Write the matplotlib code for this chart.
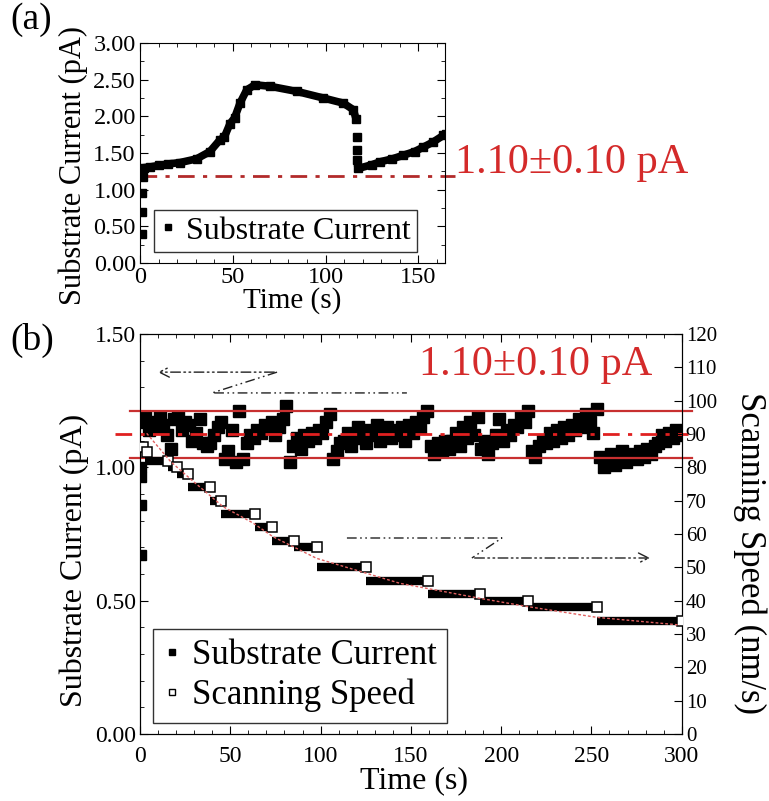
import numpy as np
import matplotlib
matplotlib.use('Agg')
import matplotlib.pyplot as plt
from matplotlib.ticker import MultipleLocator, FormatStrFormatter
from matplotlib.lines import Line2D

plt.rcParams['font.family'] = ['Liberation Serif', 'DejaVu Serif']

# ---------------- panel (a): substrate current vs time ----------------
a_rise_t = [0.9, 0.9, 1.3, 1.6]
a_rise_i = [0.40, 0.69, 0.95, 1.17]
a_time_1 = [2, 5.4, 10, 15, 21.6, 30.5, 37.7, 43.1, 45.5, 48.5, 51, 53.9, 57.5,
            62, 70, 84.5, 98.8, 109.6, 115, 116.4]
a_curr_1 = [1.30, 1.31, 1.33, 1.35, 1.37, 1.42, 1.52, 1.68, 1.72, 1.90, 1.98,
            2.18, 2.36, 2.43, 2.41, 2.34, 2.25, 2.18, 2.09, 1.97]
a_drop_t = [117, 117, 117]
a_drop_i = [1.72, 1.54, 1.40]
a_time_2 = [117.7, 125, 129.4, 136, 142, 148, 152.7, 158, 163.5, 165]
a_curr_2 = [1.29, 1.34, 1.38, 1.42, 1.47, 1.52, 1.58, 1.65, 1.74, 1.76]
a_ref_level = 1.186

# ---------------- panel (b): current under speed control ----------------
b_start_t = [0.8, 0.8, 0.8, 0.8]
b_start_i = [0.67, 0.86, 0.965, 1.0]
b_step = 2.0          # sampling interval of the current trace (s)
b_curr = [1.17, 1.19, 1.14,
          1.17, 1.15, 1.19, 1.16,
          1.12, 1.07, 1.18,
          1.19, 1.14, 1.17,
          1.16, 1.10, 1.13,
          1.18, 1.09, 1.08,
          1.09, 1.12, 1.15,
          1.17, 1.03,
          1.06, 1.14, 1.02,
          1.21, 1.03,
          1.09, 1.12, 1.11, 1.14, 1.13, 1.16, 1.15,
          1.17, 1.12, 1.15, 1.18,
          1.23, 1.02,
          1.08, 1.11, 1.07, 1.12, 1.10, 1.13, 1.11, 1.14, 1.13, 1.17, 1.20,
          1.03, 1.06, 1.09,
          1.10, 1.13, 1.08, 1.12, 1.15, 1.11, 1.09, 1.14, 1.12, 1.16, 1.10,
          1.13, 1.15, 1.11, 1.14,
          1.12, 1.15, 1.10, 1.16, 1.13, 1.17, 1.15, 1.19, 1.21,
          1.08, 1.05, 1.09, 1.06, 1.10, 1.07,
          1.10, 1.13, 1.08, 1.15, 1.11, 1.17, 1.12, 1.19,
          1.07, 1.10, 1.05, 1.09, 1.12,
          1.18,
          1.10, 1.14, 1.12, 1.16, 1.15, 1.19, 1.17, 1.21,
          1.06, 1.04, 1.08, 1.10,
          1.09, 1.13, 1.10, 1.14, 1.11, 1.15, 1.12, 1.16,
          1.14, 1.18, 1.15, 1.20, 1.17, 1.13, 1.22,
          1.04, 1.00, 1.02, 1.05, 1.01, 1.03, 1.06, 1.02, 1.04, 1.05, 1.03,
          1.06, 1.04, 1.07, 1.05, 1.08,
          1.09, 1.12, 1.10, 1.13, 1.11, 1.14, 1.12]
b_time = 1 + b_step * np.arange(len(b_curr))

band_low, band_mid, band_high = 1.035, 1.125, 1.21

# scanning speed plateaus (nm/s)
speed_start = [2.8, 15.5, 20.3, 26.8, 38.8, 44.7, 63.7, 72.9, 85.5, 97.8,
               125.1, 159.7, 188.3, 215.0, 252.9]
speed_end = [15.5, 20.3, 26.8, 38.8, 44.7, 63.7, 72.9, 85.5, 97.8, 125.1,
             159.7, 188.3, 215.0, 252.9, 300.0]
speed_val = [82, 80, 78, 74, 70, 66, 62, 58, 56, 50, 46, 42, 40, 38, 34]
speed_first_t = [1.6, 4.0]
speed_first_v = [86.2, 84.7]

# fitted decay curve (nm/s)
fit_t = [3.7, 17, 28.6, 46, 62.6, 73.6, 97.8, 125.5, 144, 188.3, 215, 252.9, 299]
fit_v = [90.2, 81.7, 76.2, 68.2, 63.3, 59.2, 52.7, 48.2, 45.2, 40.7, 38.2, 35.0, 32.7]

RED = '#d42a2a'
DASHDOTDOT = (0, (7, 2.5, 1.2, 2.5, 1.2, 2.5))

fig = plt.figure(figsize=(7.69, 8.01), dpi=100)

# ---------------- panel (a) ----------------
ax_a = fig.add_axes([140 / 769, 1 - 263 / 801, 305 / 769, 220 / 801])
ax_a.plot([0, 169.8], [a_ref_level, a_ref_level], color='#b22a2a', lw=2.0,
          ls=(0, (6, 3, 1.5, 3)), clip_on=False, zorder=1)
ax_a.plot(a_time_1, a_curr_1, color='k', lw=5.5, marker='s', ms=5.5, zorder=3)
ax_a.plot(a_time_2, a_curr_2, color='k', lw=5.5, marker='s', ms=5.5, zorder=3)
ax_a.plot(a_rise_t, a_rise_i, 's', color='k', ms=5.5, zorder=3)
ax_a.plot(a_drop_t, a_drop_i, 's', color='k', ms=5.5, zorder=3)

ax_a.set_xlim(0, 164.4)
ax_a.set_ylim(0, 3.0)
ax_a.xaxis.set_major_locator(MultipleLocator(50))
ax_a.xaxis.set_minor_locator(MultipleLocator(10))
ax_a.yaxis.set_major_locator(MultipleLocator(0.5))
ax_a.yaxis.set_minor_locator(MultipleLocator(0.25))
ax_a.yaxis.set_major_formatter(FormatStrFormatter('%.2f'))
ax_a.tick_params(which='both', direction='in', top=True, right=True,
                 labelsize=17.5, pad=3)
ax_a.tick_params(axis='x', pad=3)
ax_a.tick_params(which='major', length=6)
ax_a.tick_params(which='minor', length=3)
ax_a.set_xlabel('Time (s)', fontsize=21)
ax_a.xaxis.set_label_coords(0.50, -0.11)
ax_a.set_ylabel('Substrate Current (pA)', fontsize=22)
ax_a.yaxis.set_label_coords(-0.17, 0.445)

leg_a = ax_a.legend([Line2D([], [], marker='s', ls='none', color='k', ms=5)],
                    ['Substrate Current'], loc='lower left',
                    bbox_to_anchor=(0.045, 0.05), fontsize=23, frameon=True,
                    fancybox=False, handlelength=0.5, handletextpad=0.3,
                    borderpad=0.2, borderaxespad=0)
leg_a.get_frame().set_edgecolor('k')
leg_a.get_frame().set_linewidth(1.0)

fig.text(455 / 769, 1 - 173 / 801, '1.10\u00b10.10 pA', color=RED,
         fontsize=30.5, va='baseline', ha='left')

# ---------------- panel (b) ----------------
ax_b = fig.add_axes([140 / 769, 1 - 734 / 801, 541.7 / 769, 400 / 801])
ax_s = ax_b.twinx()

ax_b.plot(b_time, b_curr, 's', color='k', ms=8.5, zorder=2)
ax_b.plot(b_start_t, b_start_i, 's', color='k', ms=6.5, zorder=2)
for lvl in (band_low, band_high):
    ax_b.plot([-5.5, 305.6], [lvl, lvl], color='#c83030', lw=1.6,
              clip_on=False, zorder=4)
ax_b.plot([-13.8, 303.4], [band_mid, band_mid], color='#e02020', lw=2.0,
          ls=(0, (6, 3, 1.5, 3)), clip_on=False, zorder=4)

ax_b.text(154.5, 1.345, '1.10\u00b10.10 pA', color=RED, fontsize=30.5,
          ha='left', va='baseline')

# direction markers (dash-dot-dot)
ax_b.annotate('', xy=(8.3, 1.357), xytext=(75.9, 1.357),
              arrowprops=dict(arrowstyle='->', color='#222222', lw=1.0,
                              ls=DASHDOTDOT, mutation_scale=18))
ax_b.plot([75.9, 39.9, 147.8], [1.357, 1.279, 1.279], color='#222222', lw=1.0,
          ls=DASHDOTDOT)
ax_b.plot([114.6, 200.4, 183.8], [0.735, 0.735, 0.66], color='#222222', lw=1.0,
          ls=DASHDOTDOT)
ax_b.annotate('', xy=(284.0, 0.66), xytext=(183.8, 0.66),
              arrowprops=dict(arrowstyle='->', color='#222222', lw=1.0,
                              ls=DASHDOTDOT, mutation_scale=18))

ax_s.hlines(speed_val, speed_start, speed_end, colors='k', lw=6,
            zorder=2)
ax_s.plot(speed_end, speed_val, 's', mfc='white', mec='k', ms=6.5, mew=1.1,
          zorder=3)
ax_s.plot(speed_first_t, speed_first_v, 's', mfc='white', mec='k', ms=6.5,
          mew=1.1, zorder=3)
ax_s.plot(fit_t, fit_v, color='#e06060', lw=1.0, ls=(0, (2, 1.5)), zorder=4)

ax_b.set_xlim(0, 300)
ax_b.set_ylim(0, 1.5)
ax_s.set_ylim(0, 120)
ax_b.xaxis.set_major_locator(MultipleLocator(50))
ax_b.xaxis.set_minor_locator(MultipleLocator(10))
ax_b.yaxis.set_major_locator(MultipleLocator(0.5))
ax_b.yaxis.set_minor_locator(MultipleLocator(0.1))
ax_b.yaxis.set_major_formatter(FormatStrFormatter('%.2f'))
ax_s.yaxis.set_major_locator(MultipleLocator(10))
ax_b.tick_params(which='both', direction='in', top=True, right=False,
                 labelsize=17, pad=3)
ax_b.tick_params(axis='x', pad=9)
ax_b.tick_params(which='major', length=6)
ax_b.tick_params(which='minor', length=3)
ax_s.tick_params(direction='in', length=6, labelsize=15, pad=3)

ax_b.set_xlabel('Time (s)', fontsize=23)
ax_b.xaxis.set_label_coords(0.505, -0.08)
ax_b.set_ylabel('Substrate Current (pA)', fontsize=23)
ax_b.yaxis.set_label_coords(-0.095, 0.435)
ax_s.set_ylabel('Scanning Speed (nm/s)', fontsize=25, rotation=270,
                va='bottom')
ax_s.yaxis.set_label_coords(1.095, 0.4525)

leg_b = ax_s.legend([Line2D([], [], marker='s', ls='none', color='k', ms=5),
                     Line2D([], [], marker='s', ls='none', mfc='white',
                            mec='k', ms=5)],
                    ['Substrate Current', 'Scanning Speed'], loc='lower left',
                    bbox_to_anchor=(0.0246, 0.028), fontsize=25, frameon=True,
                    fancybox=False, handlelength=0.5, handletextpad=0.3,
                    borderpad=0.3, labelspacing=0.2, borderaxespad=0)
leg_b.get_frame().set_edgecolor('k')
leg_b.get_frame().set_linewidth(1.0)
leg_b.set_zorder(10)

fig.text(10 / 769, 1 - 20 / 801, '(a)', fontsize=27, va='center', ha='left')
fig.text(10 / 769, 1 - 340 / 801, '(b)', fontsize=27, va='center', ha='left')

fig.savefig('out.png', dpi=100)
